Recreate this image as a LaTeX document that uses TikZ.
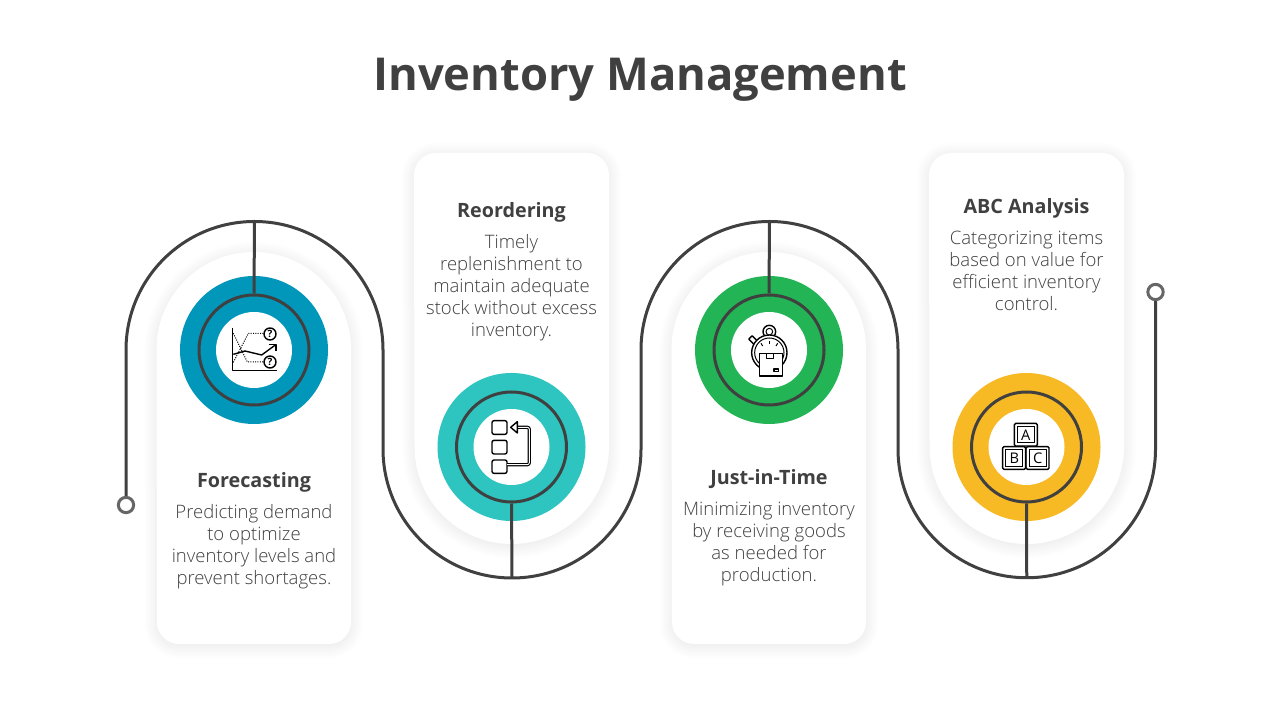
\documentclass[tikz,border=0pt]{standalone}
\usepackage{fontspec}
\setmainfont{Open Sans}
\newfontfamily\lighttext{Open Sans Light}
\definecolor{ink}{HTML}{404040}
\definecolor{ringA}{HTML}{0097BB}
\definecolor{ringB}{HTML}{2EC4C0}
\definecolor{ringC}{HTML}{22B455}
\definecolor{ringD}{HTML}{F7B924}
\definecolor{dotgray}{HTML}{666666}
\newcommand{\capup}[5]{({#1-#5},{#2+22}) arc[start angle=180,end angle=270,radius={22+#5}] -- ({#3-22},{#2-#5}) arc[start angle=270,end angle=360,radius={22+#5}] -- ({#3+#5},{#4-97.25}) arc[start angle=0,end angle=180,radius={97.25+#5}] -- cycle}
\newcommand{\capdown}[5]{({#1-#5},{#4-22}) arc[start angle=180,end angle=90,radius={22+#5}] -- ({#3-22},{#4+#5}) arc[start angle=90,end angle=0,radius={22+#5}] -- ({#3+#5},{#2+97.25}) arc[start angle=360,end angle=180,radius={97.25+#5}] -- cycle}
\newcommand{\softcard}[5]{%
  \foreach \e in {12,10,...,0}{\fill[black,fill opacity=0.007,yshift=-1.5pt] #1{#2}{#3}{#4}{#5}{\e};}
  \fill[white] #1{#2}{#3}{#4}{#5}{0};}
\tikzset{
  x=0.75pt,y=0.75pt,
  wire/.style={draw=ink,line width=2.25pt,line cap=butt},
  ringnode/.style={circle,minimum size=82.5pt,inner sep=0pt,draw=ink,line width=2.25pt},
  hole/.style={circle,minimum size=57pt,inner sep=0pt,fill=white},
  disc/.style={circle,minimum size=111pt,inner sep=0pt},
  enddot/.style={circle,minimum size=11.5pt,inner sep=0pt,draw=dotgray,line width=2.25pt,fill=white},
  heading/.style={font=\fontsize{14.8}{18}\selectfont\bfseries,text=ink,align=center},
  bodytext/.style={font=\lighttext\fontsize{13.9}{16.5}\selectfont,text=ink,align=center},
  icon/.style={draw=black,line width=1.05pt,line join=round},
  iconthin/.style={draw=black,line width=0.75pt},
}
\begin{document}
\begin{tikzpicture}
\useasboundingbox (0,0) rectangle (1280,720);
\fill[white] (0,0) rectangle (1280,720);
\node[font=\fontsize{34}{42}\selectfont\bfseries,text=ink] (title) at (640,640) {Inventory Management};

\softcard{\capup}{157}{76}{351}{468}
\softcard{\capdown}{414}{176}{609}{567}
\softcard{\capup}{672}{76}{866}{468}
\softcard{\capdown}{929}{176}{1124}{567}

\node[disc,fill=ringA] (discA) at (254,370) {};
\node[disc,fill=ringB] (discB) at (511.5,273) {};
\node[disc,fill=ringC] (discC) at (769,370) {};
\node[disc,fill=ringD] (discD) at (1026.5,273) {};
\node[hole] (holeA) at (discA) {};
\node[hole] (holeB) at (discB) {};
\node[hole] (holeC) at (discC) {};
\node[hole] (holeD) at (discD) {};
\node[ringnode] (ringA) at (discA) {};
\node[ringnode] (ringB) at (discB) {};
\node[ringnode] (ringC) at (discC) {};
\node[ringnode] (ringD) at (discD) {};

\node[enddot] (startdot) at (126,215) {};
\node[enddot] (enddotb) at (1155.5,428) {};

\draw[wire] (startdot.north) -- (126,370)
  arc[start angle=180,end angle=90,radius=128.5] coordinate (crestA)
  arc[start angle=90,end angle=0,radius=128.5] -- (383,271)
  arc[start angle=180,end angle=270,radius=129] coordinate (troughB)
  arc[start angle=270,end angle=360,radius=129] -- (641,370)
  arc[start angle=180,end angle=90,radius=128.5] coordinate (crestC)
  arc[start angle=90,end angle=0,radius=128.5] -- (898,271)
  arc[start angle=180,end angle=270,radius=128.75] coordinate (troughD)
  arc[start angle=270,end angle=360,radius=128.75] -- (enddotb.south);
\draw[wire] (crestA) -- (ringA.north);
\draw[wire] (troughB) -- (ringB.south);
\draw[wire] (crestC) -- (ringC.north);
\draw[wire] (troughD) -- (ringD.south);

\node[heading] (headA) at (254,238) {Forecasting};
\node[bodytext] (textA) at (254,173) {Predicting demand\\to optimize\\inventory levels and\\prevent shortages.};
\node[heading] (headB) at (511.5,508) {Reordering};
\node[bodytext] (textB) at (511.5,432) {Timely\\replenishment to\\maintain adequate\\stock without excess\\inventory.};
\node[heading] (headC) at (769,241) {Just-in-Time};
\node[bodytext] (textC) at (769,176) {Minimizing inventory\\by receiving goods\\as needed for\\production.};
\node[heading] (headD) at (1026.5,512) {ABC Analysis};
\node[bodytext] (textD) at (1026.5,449) {Categorizing items\\based on value for\\efficient inventory\\control.};

% icon A
\begin{scope}[shift={(170,455)},x=0.25pt,y=-0.25pt]
  \draw[icon] (188,188) -- (188,317) -- (320,317);
  \draw[iconthin,densely dotted] (190,292) -- (235,205) -- (282,205);
  \draw[iconthin,densely dotted] (190,205) -- (232,291) -- (282,291);
  \draw[icon] (190,268) -- (225,258) -- (275,270) -- (316,240);
  \draw[icon] (296,238) -- (318,238) -- (318,258);
  \draw[icon,fill=white] (300,207) circle[radius=18];
  \draw[icon,fill=white] (300,291) circle[radius=18];
  \node[inner sep=0pt,font=\fontsize{7.5}{7.5}\selectfont\bfseries] (qa) at (300,207) {?};
  \node[inner sep=0pt,font=\fontsize{7.5}{7.5}\selectfont\bfseries] (qb) at (300,291) {?};
\end{scope}

% icon B
\begin{scope}[shift={(430,355)},x=0.25pt,y=-0.25pt]
  \draw[icon,rounded corners=1.5pt] (186,167) rectangle (231,208);
  \draw[icon,rounded corners=1.5pt] (186,226) rectangle (231,267);
  \draw[icon,rounded corners=1.5pt] (186,285) rectangle (231,325);
  \draw[draw=black,double=white,line width=0.85pt,double distance=0.7pt,rounded corners=1.5pt] (231,299) -- (298,299) -- (298,187) -- (262,187);
  \draw[icon,fill=white] (242,187) -- (262,170) -- (262,178) -- (262,196) -- (262,204) -- cycle;
\end{scope}

% icon C
\begin{scope}[shift={(725,410)},x=0.25pt,y=-0.25pt]
  \draw[icon] (133,65) circle[radius=19];
  \draw[iconthin] (133,65) circle[radius=10];
  \draw[icon] (122,85) -- (122,76);
  \draw[icon] (144,85) -- (144,76);
  \draw[icon,rotate around={-45:(84,90)}] (73,83) rectangle (95,97);
  \draw[icon] (90,98) -- (100,108);
  \fill[white] (133,128) circle[radius=54];
  \draw[icon] (133,128) circle[radius=53];
  \draw[iconthin] (133,128) circle[radius=44];
  \draw[iconthin] (133,92) -- (133,102);
  \draw[iconthin] (108,100) -- (113,108);
  \draw[iconthin] (158,100) -- (153,108);
  \draw[icon,fill=white] (103,130) rectangle (172,198);
  \draw[icon] (125,130) -- (125,146) -- (145,146) -- (145,130);
  \draw[icon] (147,177) rectangle (160,185);
\end{scope}

% icon D
\begin{scope}[shift={(985,310)},x=0.25pt,y=-0.25pt]
  \draw[icon,rounded corners=1pt] (88,40) rectangle (157,108);
  \draw[iconthin] (97,50) rectangle (148,99);
  \draw[icon,rounded corners=1pt] (53,110) rectangle (122,178);
  \draw[iconthin] (62,120) rectangle (113,169);
  \draw[icon,rounded corners=1pt] (123,110) rectangle (192,178);
  \draw[iconthin] (132,120) rectangle (183,169);
  \node[inner sep=0pt,font=\fontsize{11}{11}\selectfont] (letA) at (122,75) {A};
  \node[inner sep=0pt,font=\fontsize{11}{11}\selectfont] (letB) at (88,145) {B};
  \node[inner sep=0pt,font=\fontsize{11}{11}\selectfont] (letC) at (158,145) {C};
\end{scope}
\end{tikzpicture}
\end{document}
